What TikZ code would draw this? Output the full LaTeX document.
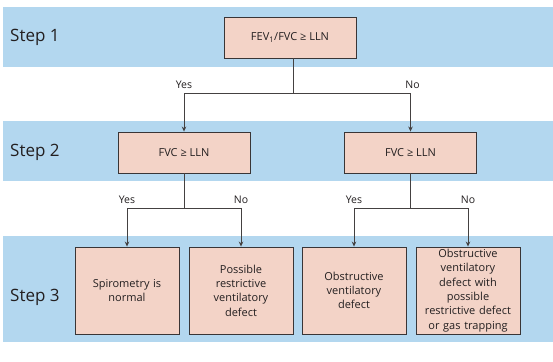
\documentclass[tikz,border=0pt]{standalone}
\usepackage{fontspec}
\setmainfont{Open Sans}
\usetikzlibrary{arrows.meta}

\definecolor{bandblue}{HTML}{B3D7EF}
\definecolor{boxpeach}{HTML}{F3D3C7}
\definecolor{inkgray}{HTML}{231F20}

\begin{document}
\begin{tikzpicture}[x=1pt, y=-1pt,
    decision/.style={draw=inkgray!90, line width=0.9pt, fill=boxpeach, minimum width=132pt,
        minimum height=41pt, inner sep=0pt, font=\fontsize{11}{13}\selectfont, text=inkgray},
    outcome/.style={draw=inkgray!90, line width=0.9pt, fill=boxpeach, minimum width=104pt,
        minimum height=87pt, text width=100pt, align=center, inner sep=0pt,
        font=\fontsize{11}{14.3}\selectfont, text=inkgray},
    steplabel/.style={anchor=west, inner sep=0pt, font=\fontsize{17}{19}\selectfont, text=inkgray},
    answer/.style={anchor=south, inner sep=0pt, font=\fontsize{10.5}{12}\selectfont, text=inkgray},
    link/.style={draw=inkgray!85, line width=0.8pt},
    arrow/.style={link, -{Stealth[length=5pt, width=4.5pt]}}]
    % Define the canvas and the three bands
    \useasboundingbox (0,0) rectangle (553,361);
    \fill[white] (0,0) rectangle (553,361);
    \fill[bandblue] (3,7) rectangle (553,67);
    \fill[bandblue] (3,121) rectangle (553,181);
    \fill[bandblue] (3,236) rectangle (553,342);

    % Draw the step labels
    \node[steplabel] (step1) at (10,37) {Step 1};
    \node[steplabel] (step2) at (10,152) {Step 2};
    \node[steplabel] (step3) at (10,297) {Step 3};

    % Draw the decision boxes
    \node[decision] (ratio) at (290,37.5) {FEV\textsubscript{1}/FVC ≥ LLN};
    \node[decision] (fvcYes) at (184,152.5) {FVC ≥ LLN};
    \node[decision] (fvcNo) at (410.5,152.5) {FVC ≥ LLN};

    % Draw the outcome boxes
    \node[outcome] (normal) at (127,290.5) {Spirometry is\\normal};
    \node[outcome] (restrict) at (241,290.5) {Possible\\restrictive\\ventilatory\\defect};
    \node[outcome] (obstruct) at (354,290.5) {Obstructive\\ventilatory\\defect};
    \node[outcome] (mixed) at (468,290.5) {Obstructive\\ventilatory\\defect with\\possible\\restrictive defect\\or gas trapping};

    % Define the branch points
    \coordinate (split1) at ([xshift=3pt]ratio.south |- 0,93);
    \coordinate (split2) at (fvcYes.south |- 0,208);
    \coordinate (split3) at (fvcNo.south |- 0,208);

    % Draw the connectors
    \draw[link] ([xshift=3pt]ratio.south) -- (split1);
    \draw[arrow] (split1) -| (fvcYes.north);
    \draw[arrow] (split1) -| (fvcNo.north);
    \draw[link] (fvcYes.south) -- (split2);
    \draw[arrow] (split2) -| (normal.north);
    \draw[arrow] (split2) -| (restrict.north);
    \draw[link] (fvcNo.south) -- (split3);
    \draw[arrow] (split3) -| (obstruct.north);
    \draw[arrow] (split3) -| (mixed.north);

    % Draw the answers
    \node[answer] (yes1) at ([yshift=4pt]fvcYes.north |- split1) {Yes};
    \node[answer] (no1) at ([yshift=4pt, xshift=2pt]fvcNo.north |- split1) {No};
    \node[answer] (yes2) at ([yshift=4pt]normal.north |- split2) {Yes};
    \node[answer] (no2) at ([yshift=4pt]restrict.north |- split2) {No};
    \node[answer] (yes3) at ([yshift=4pt]obstruct.north |- split3) {Yes};
    \node[answer] (no3) at ([yshift=4pt]mixed.north |- split3) {No};
\end{tikzpicture}
\end{document}
